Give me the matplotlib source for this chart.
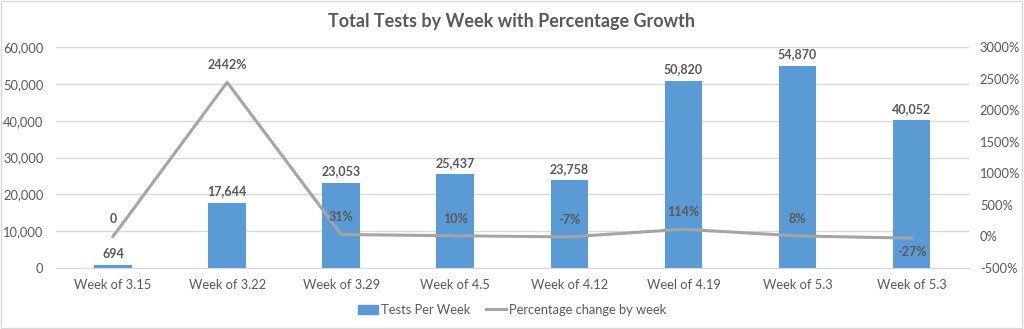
import matplotlib
matplotlib.use('Agg')
import matplotlib.pyplot as plt
from matplotlib.patches import Rectangle
from matplotlib.lines import Line2D
from matplotlib.ticker import FuncFormatter

# data
weeks = ["Week of 3.15", "Week of 3.22", "Week of 3.29", "Week of 4.5",
         "Week of 4.12", "Weel of 4.19", "Week of 5.3", "Week of 5.3"]
tests = [694, 17644, 23053, 25437, 23758, 50820, 54870, 40052]
pct_change = [0, 2442, 31, 10, -7, 114, 8, -27]
pct_labels = ["0", "2442%", "31%", "10%", "-7%", "114%", "8%", "-27%"]

bar_color = "#5B9BD5"
line_color = "#A5A5A5"
text_color = "#595959"

plt.rcParams['font.family'] = ['Lato', 'DejaVu Sans']

fig = plt.figure(figsize=(10.24, 3.29), dpi=100)
ax = fig.add_axes([0.0547, 0.1854, 0.8913, 0.6717])
x = list(range(len(weeks)))

ax.bar(x, tests, width=0.33, color=bar_color, zorder=2)
ax.set_ylim(0, 60000)
ax.set_xlim(-0.5, len(weeks) - 0.5)
ax.set_yticks(range(0, 60001, 10000))
ax.yaxis.set_major_formatter(FuncFormatter(lambda v, p: f"{int(v):,}"))
ax.grid(axis='y', color="#D9D9D9", lw=1, zorder=0)
ax.set_axisbelow(True)
ax.set_xticks(x)
ax.set_xticklabels(weeks)
for s in ax.spines.values():
    s.set_visible(False)
ax.spines['bottom'].set_visible(True)
ax.spines['bottom'].set_color("#D9D9D9")
ax.tick_params(length=0, colors=text_color, labelsize=9.3, pad=8)
ax.tick_params(axis='y', pad=9)

for xi, v in zip(x, tests):
    ax.annotate(f"{v:,}", (xi, v), xytext=(0, 4), textcoords='offset points',
                ha='center', va='bottom', fontsize=9, fontweight='bold', color=text_color)

ax2 = ax.twinx()
ax2.plot(x, pct_change, color=line_color, lw=2.2, zorder=3)
ax2.set_ylim(-500, 3000)
ax2.set_yticks(range(-500, 3001, 500))
ax2.yaxis.set_major_formatter(FuncFormatter(lambda v, p: f"{int(v)}%"))
for s in ax2.spines.values():
    s.set_visible(False)
ax2.tick_params(length=0, colors=text_color, labelsize=9.3, pad=8)

for xi, v, lab in zip(x, pct_change, pct_labels):
    if v < 0 and xi == len(x) - 1:
        off, va = -6, 'top'
    else:
        off, va = 8, 'bottom'
    ax2.annotate(lab, (xi, v), xytext=(0, off), textcoords='offset points',
                 ha='center', va=va, fontsize=9, fontweight='bold', color=text_color)

fig.text(0.5, 0.935, "Total Tests by Week with Percentage Growth", ha='center', va='center',
         fontsize=13, fontweight='bold', color=text_color)

handles = [Rectangle((0, 0), 1, 1, color=bar_color),
           Line2D([0], [0], color=line_color, lw=2.2)]
fig.legend(handles, ["Tests Per Week", "Percentage change by week"], loc='center',
           bbox_to_anchor=(0.5, 0.058), ncol=2, frameon=False, fontsize=9.3,
           labelcolor=text_color, handlelength=1.6, handletextpad=0.2, columnspacing=1.2)

fig.patches.append(Rectangle((0.001, 0.002), 0.997, 0.995, transform=fig.transFigure,
                             fill=False, edgecolor="#D9D9D9", lw=1))

fig.savefig("out.png", dpi=100)
